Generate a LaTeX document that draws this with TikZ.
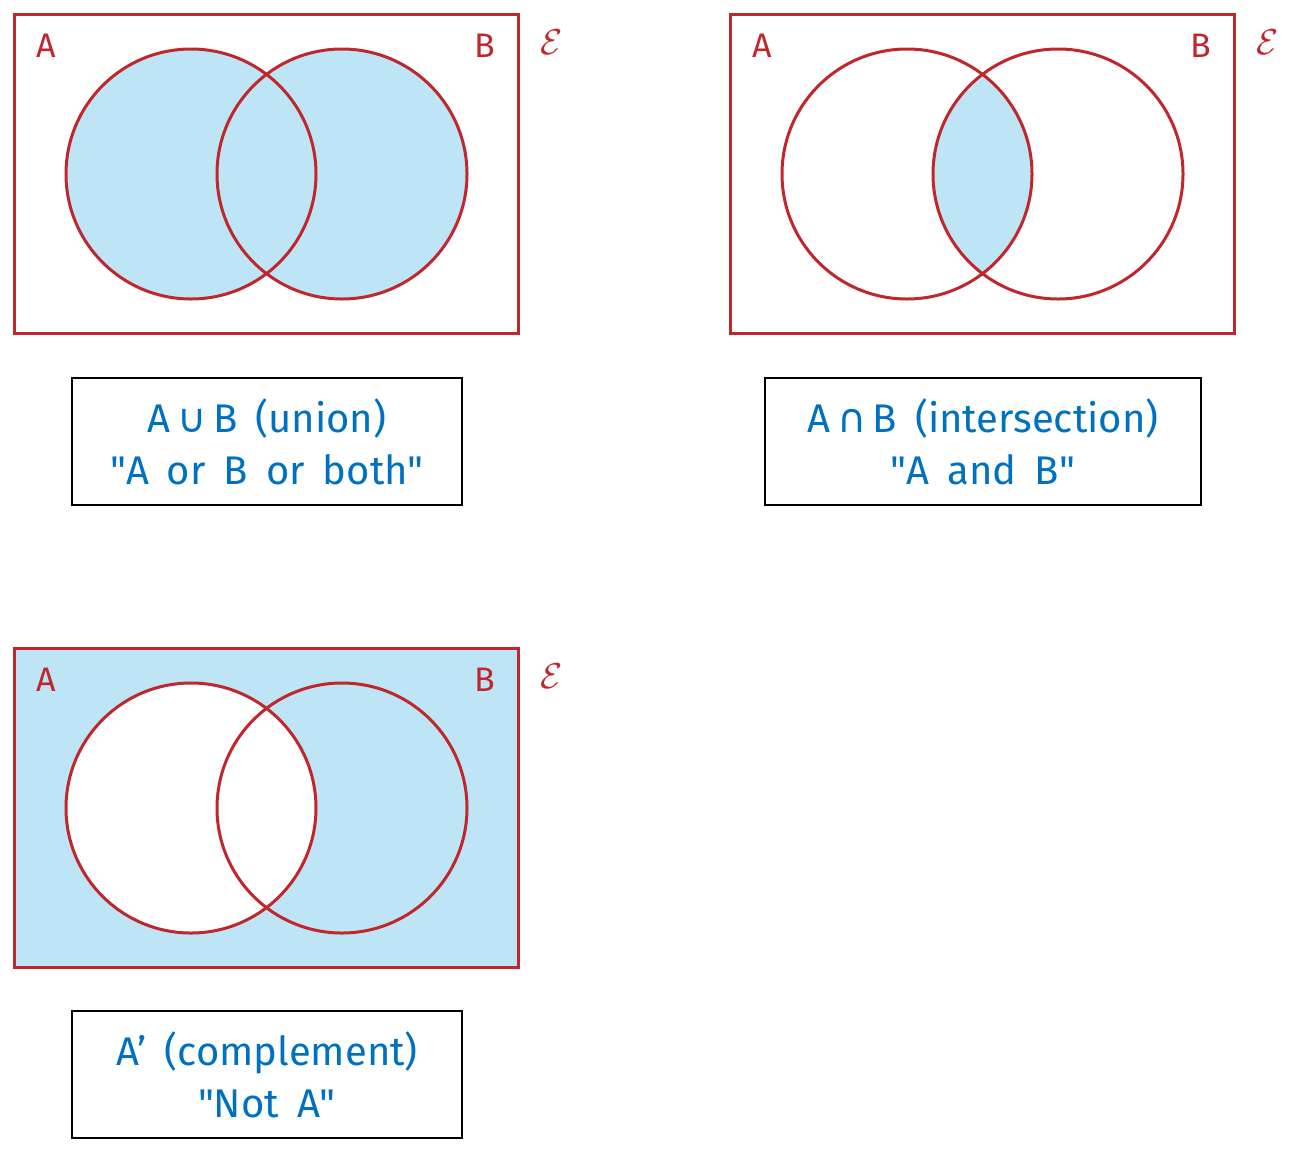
\documentclass[tikz,border=0pt]{standalone}
\usepackage{fontspec}
\usepackage{graphicx}
\setmainfont{Fira Sans}
\newfontfamily\dejavu{DejaVu Sans}
\newcommand{\qq}{\textquotedbl}
\newcommand{\wsp}{\hspace{0.45em}}
\newcommand{\univ}{\scalebox{3.6}{$\mathcal{E}$}}
\begin{document}
\begin{tikzpicture}[x=1pt,y=-1pt,
  red/.style={draw=venred,line width=3pt},
  lbl/.style={text=venred,font=\fontsize{34}{40}\selectfont},
  elbl/.style={text=venred},
  box/.style={draw=black,line width=1.3pt,minimum width=390pt,minimum height=127pt,align=center,text=venblue,font=\fontsize{40}{52}\selectfont}]
\definecolor{venred}{HTML}{C0272D}
\definecolor{venblue}{HTML}{0070C0}
\definecolor{venfill}{HTML}{BEE5F5}
\useasboundingbox (0,0) rectangle (1300,1152);
% panel 1 union
\fill[venfill] (191,174) circle (125) (342,174) circle (125);
\draw[red] (14,14) rectangle (518,333);
\draw[red] (191,174) circle (125) (342,174) circle (125);
\node[lbl] (a1) at (46,46) {A};
\node[lbl] (b1) at (485,46) {B};
\node[elbl] (e1) at (552,42) {\univ};
\node[box] (t1) at (267,441.5) {A{\dejavu\,∪\,}B\wsp(union)\\{\qq}A\wsp or\wsp B\wsp or\wsp both{\qq}};
% panel 2 intersection
\begin{scope}
\clip (907,174) circle (125);
\fill[venfill] (1058,174) circle (125);
\end{scope}
\draw[red] (730,14) rectangle (1234,333);
\draw[red] (907,174) circle (125) (1058,174) circle (125);
\node[lbl] (a2) at (762,46) {A};
\node[lbl] (b2) at (1201,46) {B};
\node[elbl] (e2) at (1268,42) {\univ};
\node[box,minimum width=436pt] (t2) at (983,441.5) {A{\dejavu\,∩\,}B\wsp(intersection)\\{\qq}A\wsp and\wsp B{\qq}};
% panel 3 complement
\fill[venfill] (14,648) rectangle (518,967);
\fill[white] (191,808) circle (125);
\draw[red] (14,648) rectangle (518,967);
\draw[red] (191,808) circle (125) (342,808) circle (125);
\node[lbl] (a3) at (46,680) {A};
\node[lbl] (b3) at (485,680) {B};
\node[elbl] (e3) at (552,676) {\univ};
\node[box] (t3) at (267,1074.5) {A’\wsp(complement)\\{\qq}Not\wsp A{\qq}};
\end{tikzpicture}
\end{document}
